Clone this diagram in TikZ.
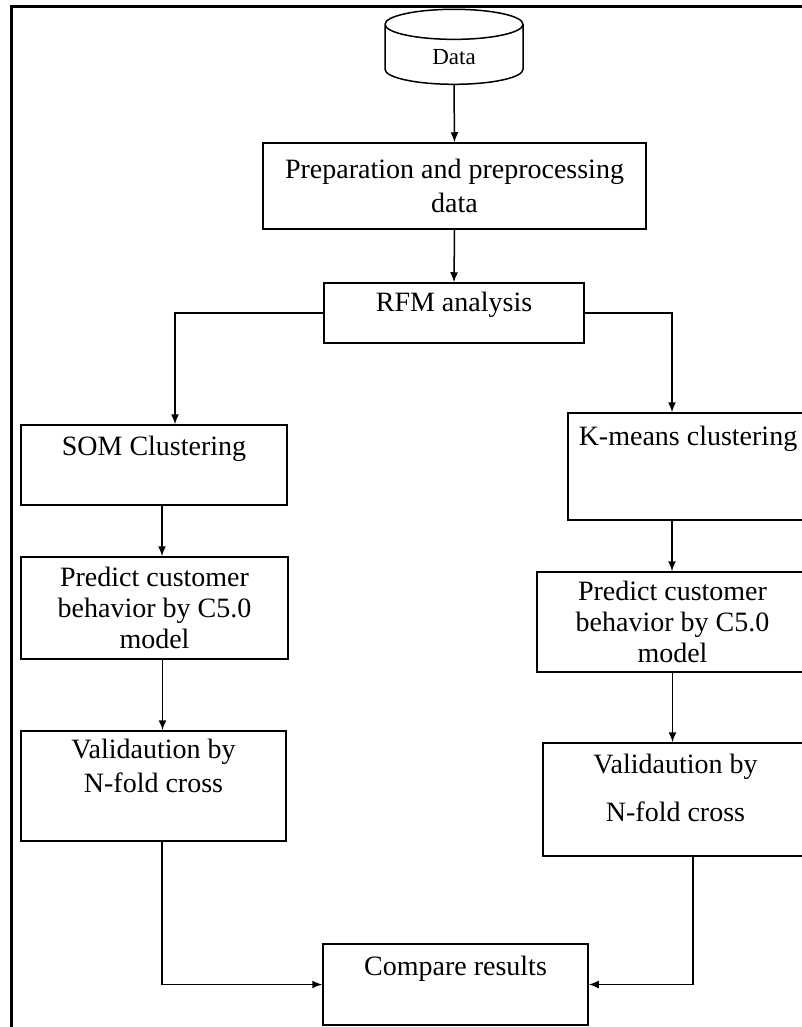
\documentclass[tikz,border=0pt]{standalone}
\usepackage{fontspec}
\setmainfont{Liberation Serif}
\usetikzlibrary{shapes.geometric,arrows.meta}

\begin{document}
\begin{tikzpicture}[x=1pt,y=-1pt,line width=1.5pt,
    box/.style={draw,align=center,font=\fontsize{28}{34}\selectfont},
    >={Latex[length=10pt,width=8pt]}]
\useasboundingbox (0,0) rectangle (802,1027);
\clip (0,0) rectangle (802,1027);
\draw[line width=3pt] (11,1030) -- (11,7) -- (810,7);

\node (data) at (454,57) [draw,cylinder,shape border rotate=90,aspect=0.6,
    minimum width=138pt,minimum height=75pt,
    font=\fontsize{23}{27}\selectfont] {Data};
\node (prep) at (454.5,186) [box,minimum width=383pt,minimum height=86pt]
    {Preparation and preprocessing\\data};
\node (rfm) at (454,313) [box,minimum width=260pt,minimum height=60pt,
    text height=19pt,text depth=23pt] {RFM analysis};

% left branch
\node (som) at (154,465) [box,minimum width=266pt,minimum height=80pt,
    text height=19pt,text depth=39pt] {SOM Clustering};
\node (predict1) at (154.5,608) [box,minimum width=267pt,minimum height=102pt,
    font=\fontsize{28}{31}\selectfont] {Predict customer\\behavior by C5.0\\model};
\node (valid1) at (153.5,786) [box,minimum width=265pt,minimum height=110pt,
    text depth=41pt] {Validaution by\\N-fold cross};

% right branch
\node (kmeans) at (688,466.5) [box,minimum width=240pt,minimum height=107pt,
    text height=19pt,text depth=62pt] {K-means clustering};
\node (predict2) at (672.5,622) [box,minimum width=271pt,minimum height=100pt,
    font=\fontsize{28}{31}\selectfont] {Predict customer\\behavior by C5.0\\model};
\node (valid2) at (675.5,799.5) [box,minimum width=265pt,minimum height=113pt,
    text depth=24pt] {Validaution by\\[14pt]N-fold cross};

\node (compare) at (455.5,984.5) [box,minimum width=265pt,minimum height=81pt,
    text height=19pt,text depth=38pt] {Compare results};

\path[->]
    (data.south) edge (prep.north)
    (prep.south) edge (rfm.north);

\draw[->] (rfm.west) -| ([xshift=21pt]som.north);
\draw[->] (rfm.east) -| ([xshift=-16pt]kmeans.north);

\draw[->] ([xshift=8pt]som.south) -- ([xshift=8pt]som.south |- predict1.north);
\draw[->] ([xshift=8pt]predict1.south) -- ([xshift=8pt]predict1.south |- valid1.north);
\draw[->] ([xshift=-16pt]kmeans.south) -- ([xshift=-16pt]kmeans.south |- predict2.north);
\draw[->] (predict2.south) -- (predict2.south |- valid2.north);

\draw[->] ([xshift=8.5pt]valid1.south) |- (compare.west);
\draw[->] ([xshift=17.5pt]valid2.south) |- (compare.east);
\end{tikzpicture}
\end{document}
